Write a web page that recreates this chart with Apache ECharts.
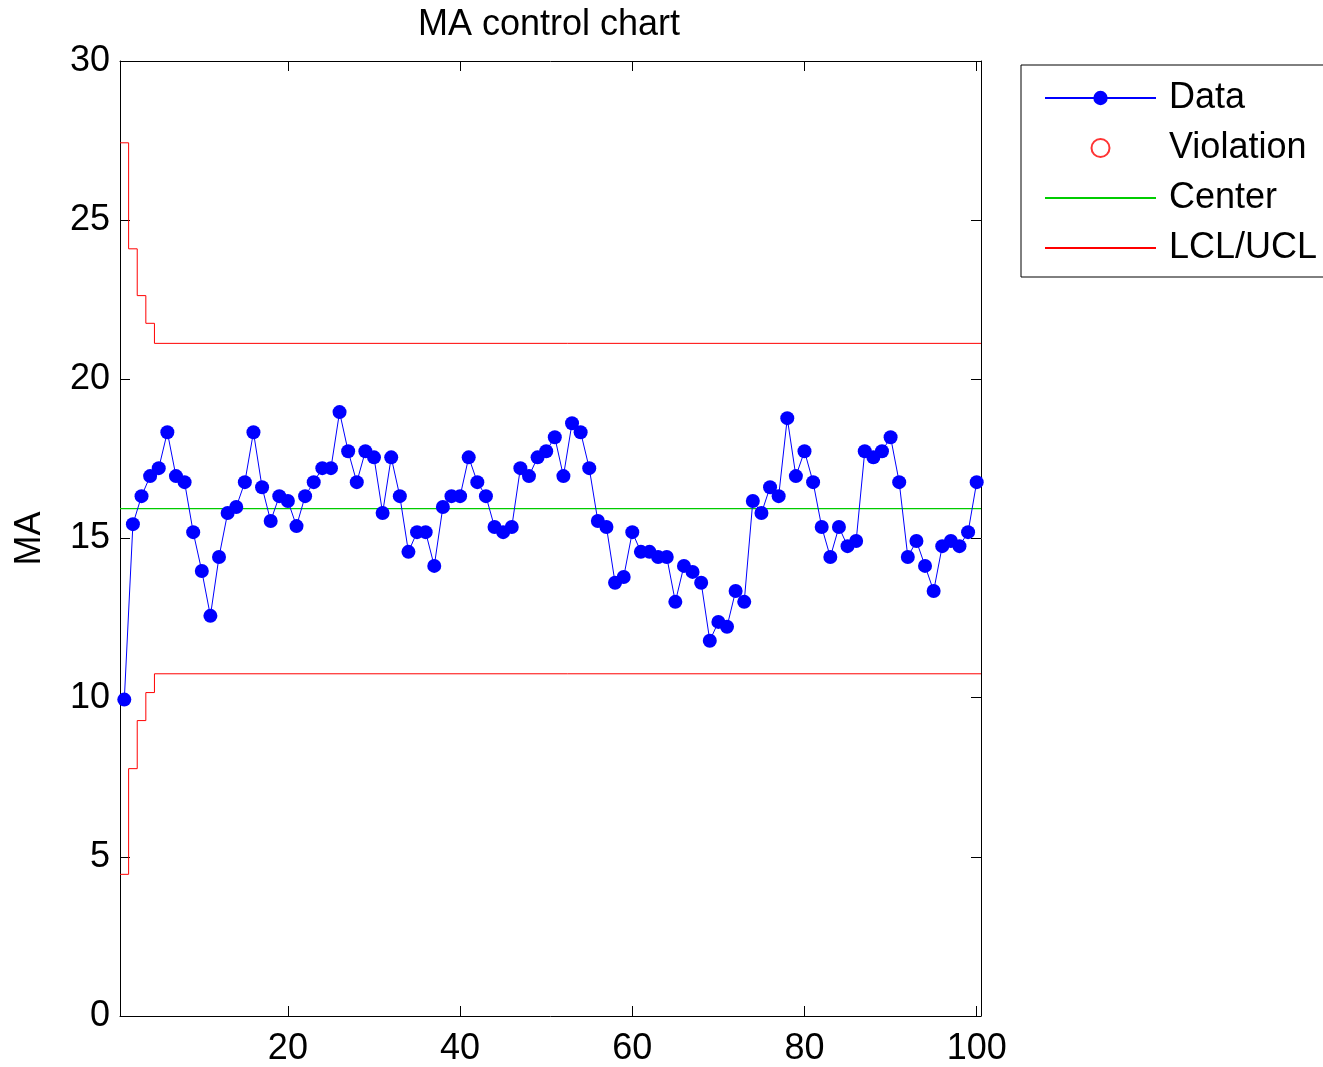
<!DOCTYPE html>
<html>
<head>
<meta charset="utf-8">
<script src="https://cdn.jsdelivr.net/npm/echarts@6/dist/echarts.min.js"></script>
<style>
  html, body { margin: 0; padding: 0; background: #fff; }
  #main { width: 1323px; height: 1067px; }
</style>
</head>
<body>
<div id="main"></div>
<script>
  // moving average values, sample 1..100
  var maValues = [
    9.94, 15.45, 16.33, 16.96, 17.21, 18.34, 16.96, 16.77, 15.20, 13.98,
    12.57, 14.42, 15.80, 15.99, 16.77, 18.34, 16.61, 15.55, 16.33, 16.18,
    15.39, 16.33, 16.77, 17.21, 17.21, 18.97, 17.74, 16.77, 17.74, 17.55,
    15.80, 17.55, 16.33, 14.58, 15.20, 15.20, 14.14, 15.99, 16.33, 16.33,
    17.55, 16.77, 16.33, 15.36, 15.20, 15.36, 17.21, 16.96, 17.55, 17.74,
    18.18, 16.96, 18.62, 18.34, 17.21, 15.55, 15.36, 13.61, 13.79, 15.20,
    14.58, 14.58, 14.42, 14.42, 13.01, 14.14, 13.95, 13.61, 11.79, 12.38,
    12.23, 13.35, 13.01, 16.18, 15.80, 16.61, 16.33, 18.78, 16.96, 17.74,
    16.77, 15.36, 14.42, 15.36, 14.76, 14.92, 17.74, 17.55, 17.74, 18.18,
    16.77, 14.42, 14.92, 14.14, 13.35, 14.76, 14.92, 14.76, 15.20, 16.77
  ];
  // control limits (stairs, change at half samples)
  var limitX = [0.5, 1.5, 2.5, 3.5, 4.5, 100.5];
  var uclValues = [27.43, 24.10, 22.63, 21.76, 21.13, 21.13];
  var lclValues = [4.45, 7.77, 9.28, 10.16, 10.75, 10.75];
  var centerX = [0.5, 100.5];
  var centerValue = 15.94;
  var xTicks = [20, 40, 60, 80, 100];

  var font = "'Liberation Sans', Arial, sans-serif";

  var dataPts = maValues.map(function (v, i) { return [i + 1, v]; });
  var uclPts = limitX.map(function (x, i) { return [x, uclValues[i]]; });
  var lclPts = limitX.map(function (x, i) { return [x, lclValues[i]]; });
  var centerPts = centerX.map(function (x) { return [x, centerValue]; });

  var chartDom = document.getElementById('main');
  var myChart = echarts.init(chartDom);

  var tickStyle = { show: true, inside: true, length: 10, lineStyle: { color: '#000', width: 1 } };
  // no marker in legend for plain lines
  var noMarker = { color: 'rgba(0,0,0,0)', borderWidth: 0, opacity: 0 };

  var option = {
    animation: false,
    backgroundColor: '#fff',
    title: {
      text: 'MA control chart',
      left: 549,
      top: 7,
      padding: 0,
      textAlign: 'center',
      textStyle: { fontFamily: font, fontSize: 36, fontWeight: 'normal', color: '#000' }
    },
    legend: {
      orient: 'vertical',
      left: 1021,
      top: 65,
      padding: [13, 40, 9, 23],
      itemWidth: 111,
      itemHeight: 18,
      itemGap: 10,
      borderColor: '#000',
      borderWidth: 1,
      backgroundColor: '#fff',
      selectedMode: false,
      textStyle: { fontFamily: font, fontSize: 36, color: '#000', lineHeight: 40, padding: [0, 0, 0, 8] },
      data: [
        'Data',
        'Violation',
        { name: 'Center', itemStyle: noMarker },
        { name: 'LCL/UCL', itemStyle: noMarker }
      ]
    },
    grid: { left: 120, right: 342, top: 61, bottom: 49 },
    xAxis: [
      {
        type: 'value', min: 0.5, max: 100.5, position: 'bottom',
        axisLine: { show: true, onZero: false, lineStyle: { color: '#000', width: 1 } },
        axisTick: Object.assign({ customValues: xTicks }, tickStyle),
        axisLabel: { customValues: xTicks, fontFamily: font, fontSize: 36, color: '#000', margin: 15 },
        splitLine: { show: false }
      },
      {
        type: 'value', min: 0.5, max: 100.5, position: 'top',
        axisLine: { show: true, onZero: false, lineStyle: { color: '#000', width: 1 } },
        axisTick: Object.assign({ customValues: xTicks }, tickStyle),
        axisLabel: { show: false },
        splitLine: { show: false }
      }
    ],
    yAxis: [
      {
        type: 'value', min: 0, max: 30, interval: 5, position: 'left',
        name: 'MA', nameLocation: 'middle', nameGap: 72, nameRotate: 90,
        nameTextStyle: { fontFamily: font, fontSize: 36, color: '#000' },
        axisLine: { show: true, onZero: false, lineStyle: { color: '#000', width: 1 } },
        axisTick: tickStyle,
        axisLabel: { fontFamily: font, fontSize: 36, color: '#000', margin: 10 },
        splitLine: { show: false }
      },
      {
        type: 'value', min: 0, max: 30, interval: 5, position: 'right',
        axisLine: { show: true, onZero: false, lineStyle: { color: '#000', width: 1 } },
        axisTick: tickStyle,
        axisLabel: { show: false },
        splitLine: { show: false }
      }
    ],
    series: [
      {
        name: 'LCL/UCL', type: 'line', step: 'end', data: uclPts,
        symbol: 'none', lineStyle: { color: '#ff0000', width: 1 }, itemStyle: { color: '#ff0000' }
      },
      {
        name: 'LCL/UCL', type: 'line', step: 'end', data: lclPts,
        symbol: 'none', lineStyle: { color: '#ff0000', width: 1 }, itemStyle: { color: '#ff0000' }
      },
      {
        name: 'Center', type: 'line', data: centerPts,
        symbol: 'none', lineStyle: { color: '#00cc00', width: 1.2 }, itemStyle: { color: '#00cc00' }
      },
      {
        name: 'Violation', type: 'scatter', data: [],
        symbol: 'circle', symbolSize: 22,
        itemStyle: { color: '#fff', borderColor: '#ff0000', borderWidth: 1 }
      },
      {
        name: 'Data', type: 'line', data: dataPts,
        symbol: 'circle', symbolSize: 14, showSymbol: true,
        lineStyle: { color: '#0000ff', width: 1 },
        itemStyle: { color: '#0000ff' }
      }
    ]
  };

  option && myChart.setOption(option);
</script>
</body>
</html>
